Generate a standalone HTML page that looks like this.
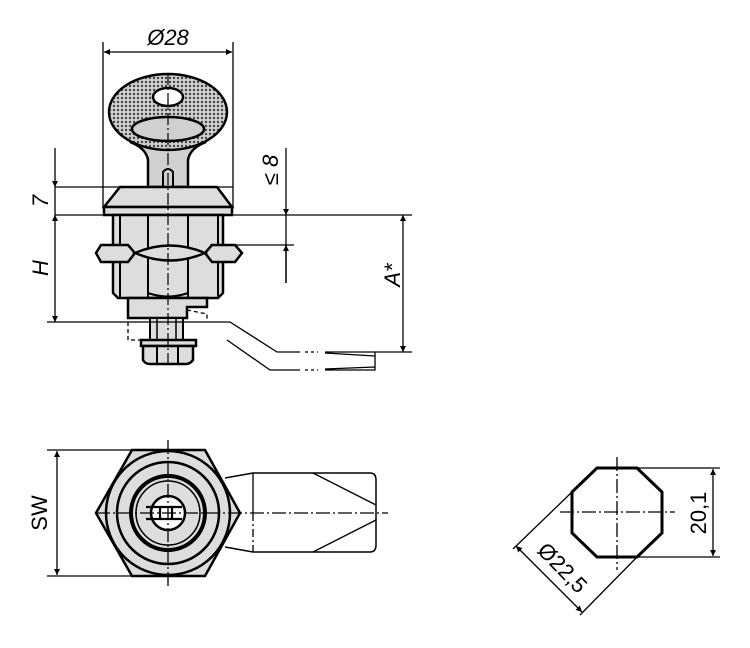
<!DOCTYPE html>
<html><head><meta charset="utf-8"><style>
html,body{margin:0;padding:0;background:#fff;}
svg{display:block}
text{font-family:"Liberation Sans",sans-serif;font-style:italic;font-size:22px;fill:#000}
</style></head><body>
<svg width="750" height="648" viewBox="0 0 750 648" xmlns="http://www.w3.org/2000/svg">
<defs>
<pattern id="dots" width="4" height="4" patternUnits="userSpaceOnUse">
<rect width="4" height="4" fill="#d0d0d0"/><circle cx="2" cy="2" r="1.2" fill="#444"/>
</pattern>
<marker id="ar" viewBox="0 0 10 10" refX="10" refY="5" markerWidth="14" markerHeight="6" markerUnits="userSpaceOnUse" orient="auto-start-reverse"><path d="M0,0L10,5L0,10z" fill="#000"/></marker>
</defs>
<g stroke="#000" fill="none" stroke-width="1.3">
<!-- Ø28 -->
<line x1="103" y1="42" x2="103" y2="207"/>
<line x1="233" y1="42" x2="233" y2="207"/>
<line x1="104" y1="52" x2="232" y2="52" marker-start="url(#ar)" marker-end="url(#ar)"/>
<!-- key -->
<path d="M148,187 L148,160 Q146,148 130,142 L206,142 Q190,148 188,160 L188,187 Z" fill="#d0d0d0" stroke-width="2.5"/>
<ellipse cx="168" cy="112" rx="59" ry="38" fill="url(#dots)" stroke-width="2.5"/>
<ellipse cx="168" cy="97" rx="15" ry="9" fill="#fff" stroke-width="2.5"/>
<ellipse cx="168" cy="129" rx="36" ry="12" fill="#d0d0d0" stroke-width="2.5"/>
<path d="M163,187 L163,172 Q168,166 173,172 L173,187" stroke-width="2"/>
<!-- cap -->
<line x1="55" y1="187" x2="233" y2="187"/>
<path d="M120,187 L217,187 L232,207 L104,207 Z" fill="#ddd" stroke-width="2.5"/>
<rect x="104" y="207" width="128" height="8" fill="#ddd" stroke-width="2.5"/>
<!-- body -->
<path d="M113,215 L223,215 L223,293 L218,298 L118,298 L113,293 Z" fill="#ddd" stroke-width="2.5"/>
<path d="M120,215 V298 M148,215 V298 M188,215 V298 M218,215 V298" stroke-width="2"/>
<path d="M148,293 Q168,300 188,293" stroke-width="2"/>
<path d="M96,253 L101,245 H128 L135,253 L128,262 H101 Z" fill="#ddd" stroke-width="2.5"/>
<path d="M235,245 L242,253 L235,262 H212 L205,253 L212,245 Z" fill="#ddd" stroke-width="2.5"/>
<path d="M135,253 Q170,238 205,253 Q170,268 135,253Z" fill="#ddd" stroke-width="2.5"/>
<path d="M128,298 H207 V307 H187 V318 H128 Z" fill="#ddd" stroke-width="2.5"/>
<rect x="150" y="318" width="33" height="22" fill="#ddd" stroke-width="2"/>
<path d="M157,318 V340 M176,318 V340" stroke-width="1.5"/>
<rect x="141" y="340" width="55" height="6" fill="#ddd" stroke-width="2.5"/>
<path d="M143,346 H193 V360 Q190,364 186,364 H150 Q145,364 143,360 Z" fill="#ddd" stroke-width="2.5"/>
<path d="M157,346 V364 M178,346 V364" stroke-width="2"/>
<path d="M128,322 V340 H141 M187,310 L207,314 L207,322" stroke-dasharray="4,3"/>
<!-- centerline -->
<line x1="168" y1="73" x2="168" y2="368" stroke-width="1.2" stroke-dasharray="12,3,2,3"/>
<!-- lever -->
<path d="M47,322 H230 L277,352 H300"/>
<path d="M227,340 L270,370 H300"/>
<path d="M305,352 H318 M305,370 H318" stroke-dasharray="3,3"/>
<path d="M325,352 H375 V370 H325 M325,353 L375,356 M325,369 L375,367"/>
<!-- dims left -->
<line x1="55" y1="215" x2="412" y2="215"/>
<line x1="55" y1="148" x2="55" y2="187" marker-end="url(#ar)"/>
<line x1="55" y1="187" x2="55" y2="215"/>
<line x1="55" y1="215" x2="55" y2="322" marker-start="url(#ar)" marker-end="url(#ar)"/>
<line x1="210" y1="245" x2="294" y2="245"/>
<line x1="286" y1="148" x2="286" y2="215" marker-end="url(#ar)"/>
<line x1="286" y1="215" x2="286" y2="283" />
<line x1="286" y1="283" x2="286" y2="245" marker-end="url(#ar)"/>
<line x1="403" y1="215" x2="403" y2="352" marker-start="url(#ar)" marker-end="url(#ar)"/>
<line x1="375" y1="352" x2="412" y2="352"/>
</g>
<text x="168" y="45" text-anchor="middle">Ø28</text>
<text transform="translate(48,201) rotate(-90)" text-anchor="middle">7</text>
<text transform="translate(48,268) rotate(-90)" text-anchor="middle">H</text>
<text transform="translate(278,170) rotate(-90)" text-anchor="middle">≤ 8</text>
<text transform="translate(400,275) rotate(-90)" text-anchor="middle">A*</text>

<!-- bottom left view -->
<g stroke="#000" fill="none" stroke-width="1.3">
<line x1="47" y1="450" x2="132" y2="450"/>
<line x1="47" y1="576" x2="132" y2="576"/>
<line x1="57" y1="451" x2="57" y2="575" marker-start="url(#ar)" marker-end="url(#ar)"/>
<path d="M225,478 L253,473 H370 Q376,473 376,480 V545 Q376,552 370,552 H253 L225,547" fill="#fff" stroke-width="1.5"/>
<path d="M253,473 V513"/>
<path d="M253,513 V552" stroke-dasharray="8,3,2,3"/>
<path d="M313,473 L376,505 M313,552 L376,520" />
<polygon points="132,450 205,450 240,513 205,576 132,576 96,513" fill="#ddd" stroke-width="2.5"/>
<circle cx="168" cy="513" r="62" fill="#ddd" stroke-width="2.5"/>
<circle cx="168" cy="513" r="51" fill="#ddd" stroke-width="2.5"/>
<circle cx="168" cy="513" r="37" fill="#ddd" stroke-width="4"/>
<circle cx="168" cy="513" r="32" fill="#ddd" stroke-width="1.5"/>
<circle cx="168" cy="513" r="17" fill="#fff" stroke-width="2.5"/>
<path d="M146,507 H182 M146,519 H182 M160,507 V519 M172,507 V519" stroke-width="2.2"/>
<line x1="96" y1="513" x2="388" y2="513" stroke-dasharray="14,3,2,3"/>
<line x1="168" y1="440" x2="168" y2="588" stroke-dasharray="14,3,2,3"/>
</g>
<text transform="translate(47,513) rotate(-90)" text-anchor="middle" style="font-style:normal">SW</text>

<!-- right view -->
<g stroke="#000" fill="none" stroke-width="1.3">
<line x1="637" y1="468" x2="720" y2="468"/>
<line x1="637" y1="557" x2="720" y2="557"/>
<line x1="713" y1="469" x2="713" y2="556" marker-start="url(#ar)" marker-end="url(#ar)"/>
<line x1="572" y1="492" x2="513" y2="549"/>
<line x1="637" y1="557" x2="580" y2="615"/>
<line x1="516" y1="546" x2="582" y2="612" marker-start="url(#ar)" marker-end="url(#ar)"/>
<polygon points="597,468 637,468 662,492 662,533 637,557 597,557 572,533 572,492" stroke-width="3" fill="#fff"/>
<line x1="560" y1="512" x2="675" y2="512" stroke-dasharray="14,3,2,3"/>
<line x1="617" y1="457" x2="617" y2="570" stroke-dasharray="14,3,2,3"/>
</g>
<text transform="translate(706,513) rotate(-90)" text-anchor="middle" style="font-style:normal">20,1</text>
<text transform="translate(557,573) rotate(46)" text-anchor="middle" style="font-style:normal">Ø22,5</text>
</svg>
</body></html>
